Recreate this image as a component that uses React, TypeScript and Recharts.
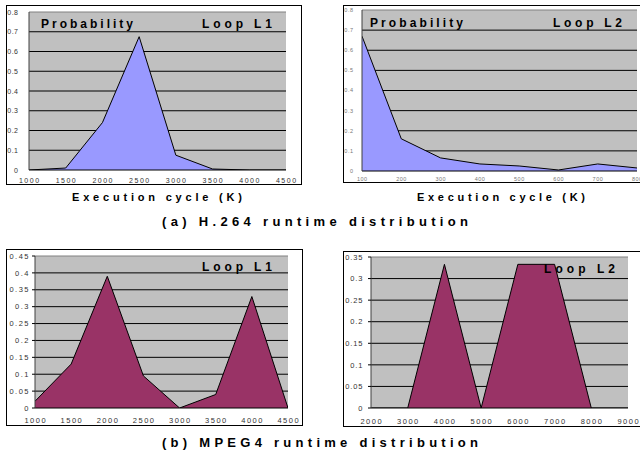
import React from 'react';
import { AreaChart, Area, XAxis, YAxis, CartesianGrid, ReferenceLine } from 'recharts';

// ---- Data ----
const h264L1Cycles = [1000, 1500, 2000, 2500, 3000, 3500, 4000, 4500];
const h264L1Prob = [0, 0.01, 0.24, 0.675, 0.075, 0.005, 0, 0];

const h264L2Cycles = [100, 200, 300, 400, 500, 600, 700, 800];
const h264L2Prob = [0.67, 0.16, 0.065, 0.035, 0.025, 0.005, 0.035, 0.015];

const mpegL1Cycles = [1000, 1500, 2000, 2500, 3000, 3500, 4000, 4500];
const mpegL1Prob = [0.02, 0.13, 0.39, 0.095, 0, 0.04, 0.33, 0];

const mpegL2Cycles = [2000, 3000, 4000, 5000, 6000, 7000, 8000, 9000];
const mpegL2Prob = [0, 0, 0.333, 0, 0.333, 0.333, 0, 0];

const h264YTicks = [0, 0.1, 0.2, 0.3, 0.4, 0.5, 0.6, 0.7, 0.8];
const h264YLabels = ['0', '0.1', '0.2', '0.3', '0.4', '0.5', '0.6', '0.7', '0.8'];
const mpegL1YTicks = [0, 0.05, 0.1, 0.15, 0.2, 0.25, 0.3, 0.35, 0.4, 0.45];
const mpegL1YLabels = ['0', '0.05', '0.1', '0.15', '0.2', '0.25', '0.3', '0.35', '0.4', '0.45'];
const mpegL2YTicks = [0, 0.05, 0.1, 0.15, 0.2, 0.25, 0.3, 0.35];
const mpegL2YLabels = ['0', '0.05', '0.1', '0.15', '0.2', '0.25', '0.3', '0.35'];

const FONT = '"Liberation Sans", Arial, sans-serif';

type Box = { l: number; t: number; r: number; b: number };

type PanelProps = {
  border: Box;
  plot: Box;
  xs: number[];
  ys: number[];
  yTicks: number[];
  yLabels: string[];
  fill: string;
  xLabelBaseline: number;
  yLabelRight: number;
  tickFont: number;
  tickSpacing: number;
  yTickSpacing: number;
  tickColor: string;
  yTickLine: boolean;
};

function Panel(p: PanelProps) {
  const ox = p.border.l + 1;
  const oy = p.border.t + 1;
  const W = p.border.r - p.border.l - 2;
  const H = p.border.b - p.border.t - 2;
  const pl = p.plot.l - ox;
  const pt = p.plot.t - oy;
  const pr = p.plot.r - ox;
  const pb = p.plot.b - oy;
  const data = p.xs.map((x, i) => ({ x, p: p.ys[i] }));
  const yMax = p.yTicks[p.yTicks.length - 1];
  const labelMap: Record<string, string> = {};
  p.yTicks.forEach((v, i) => (labelMap[String(v)] = p.yLabels[i]));

  const xTick = (props: any) => (
    <text
      x={props.x + p.tickSpacing / 2}
      y={p.xLabelBaseline - oy}
      textAnchor="middle"
      fontSize={p.tickFont}
      fontFamily={FONT}
      fill={p.tickColor}
      style={{ letterSpacing: p.tickSpacing }}
    >
      {String(props.payload.value)}
    </text>
  );
  const yTick = (props: any) => (
    <text
      x={p.yLabelRight - ox + p.yTickSpacing}
      y={props.y + p.tickFont * 0.36}
      textAnchor="end"
      fontSize={p.tickFont}
      fontFamily={FONT}
      fill={p.tickColor}
      style={{ letterSpacing: p.yTickSpacing }}
    >
      {labelMap[String(props.payload.value)] ?? String(props.payload.value)}
    </text>
  );

  return (
    <div
      style={{
        position: 'absolute',
        left: p.border.l,
        top: p.border.t,
        width: p.border.r - p.border.l,
        height: p.border.b - p.border.t,
        boxSizing: 'border-box',
        border: '1px solid #000',
        overflow: 'hidden',
        background: '#fff',
      }}
    >
      <AreaChart
        width={W}
        height={H}
        data={data}
        margin={{ top: pt, left: 0, right: W - pr, bottom: 0 }}
      >
        <CartesianGrid
          vertical={false}
          horizontalValues={p.yTicks.slice(1, -1)}
          stroke="#000"
          strokeWidth={1}
          fill="#C0C0C0"
          fillOpacity={1}
        />
        <ReferenceLine y={yMax} stroke="#808080" strokeWidth={1} ifOverflow="visible" />
        <XAxis
          type="number"
          dataKey="x"
          domain={[p.xs[0], p.xs[p.xs.length - 1]]}
          ticks={p.xs}
          interval={0}
          height={H - pb}
          axisLine={{ stroke: '#000', strokeWidth: 1 }}
          tickLine={false}
          tickSize={0}
          tick={xTick}
          allowDataOverflow
        />
        <YAxis
          type="number"
          domain={[0, yMax]}
          ticks={p.yTicks}
          interval={0}
          width={pl}
          axisLine={{ stroke: '#404040', strokeWidth: 1 }}
          tickLine={p.yTickLine ? { stroke: '#000' } : false}
          tickSize={3}
          tick={yTick}
          allowDataOverflow
        />
        <Area
          type="linear"
          dataKey="p"
          stroke="#000"
          strokeWidth={1}
          fill={p.fill}
          fillOpacity={1}
          isAnimationActive={false}
          dot={false}
          activeDot={false}
        />
      </AreaChart>
    </div>
  );
}

function Label(props: { x: number; y: number; w: number; size: number; text: string }) {
  return (
    <text
      x={props.x}
      y={props.y}
      fontSize={props.size}
      fontWeight="bold"
      fontFamily={FONT}
      fill="#000"
      textLength={props.w}
      lengthAdjust="spacing"
    >
      {props.text}
    </text>
  );
}

export default function App() {
  return (
    <div
      style={{
        position: 'absolute',
        left: 0,
        top: 0,
        width: 640,
        height: 456,
        background: '#fff',
        overflow: 'hidden',
        fontFamily: FONT,
      }}
    >
      <Panel
        border={{ l: 6, t: 5, r: 302, b: 185 }}
        plot={{ l: 29, t: 12, r: 286, b: 170 }}
        xs={h264L1Cycles}
        ys={h264L1Prob}
        yTicks={h264YTicks}
        yLabels={h264YLabels}
        fill="#9999FF"
        xLabelBaseline={182.5}
        yLabelRight={18}
        tickFont={7}
        tickSpacing={1.5}
        yTickSpacing={0.5}
        tickColor="#333"
        yTickLine={false}
      />
      <Panel
        border={{ l: 343, t: 5, r: 660, b: 183 }}
        plot={{ l: 362, t: 10, r: 637, b: 171 }}
        xs={h264L2Cycles}
        ys={h264L2Prob}
        yTicks={h264YTicks}
        yLabels={h264YLabels}
        fill="#9999FF"
        xLabelBaseline={181}
        yLabelRight={353}
        tickFont={5.5}
        tickSpacing={0.5}
        yTickSpacing={0.5}
        tickColor="#777"
        yTickLine={false}
      />
      <Panel
        border={{ l: 6, t: 249, r: 303, b: 426 }}
        plot={{ l: 35, t: 256, r: 288, b: 408 }}
        xs={mpegL1Cycles}
        ys={mpegL1Prob}
        yTicks={mpegL1YTicks}
        yLabels={mpegL1YLabels}
        fill="#993366"
        xLabelBaseline={423}
        yLabelRight={28.5}
        tickFont={7.5}
        tickSpacing={1.5}
        yTickSpacing={1.5}
        tickColor="#333"
        yTickLine={true}
      />
      <Panel
        border={{ l: 343, t: 251, r: 660, b: 427 }}
        plot={{ l: 371, t: 257, r: 628, b: 408 }}
        xs={mpegL2Cycles}
        ys={mpegL2Prob}
        yTicks={mpegL2YTicks}
        yLabels={mpegL2YLabels}
        fill="#993366"
        xLabelBaseline={423.5}
        yLabelRight={362.5}
        tickFont={7.5}
        tickSpacing={1.5}
        yTickSpacing={0.9}
        tickColor="#333"
        yTickLine={true}
      />
      <svg
        width={640}
        height={456}
        style={{ position: 'absolute', left: 0, top: 0, pointerEvents: 'none' }}
      >
        <Label x={41} y={27.5} w={92} size={12} text="Probability" />
        <Label x={202} y={27.5} w={70} size={12} text="Loop L1" />
        <Label x={370} y={26.7} w={93} size={12} text="Probability" />
        <Label x={553} y={26.7} w={69} size={12} text="Loop L2" />
        <Label x={72} y={200.7} w={170} size={11} text="Execution cycle (K)" />
        <Label x={417} y={200.7} w={168} size={11} text="Execution cycle (K)" />
        <Label x={162} y={225.5} w={306} size={13} text="(a) H.264 runtime distribution" />
        <Label x={202} y={270.7} w={70} size={12} text="Loop L1" />
        <Label x={544} y={273.3} w={71} size={12} text="Loop L2" />
        <Label x={162} y={446.5} w={316} size={13} text="(b) MPEG4 runtime distribution" />
      </svg>
    </div>
  );
}
